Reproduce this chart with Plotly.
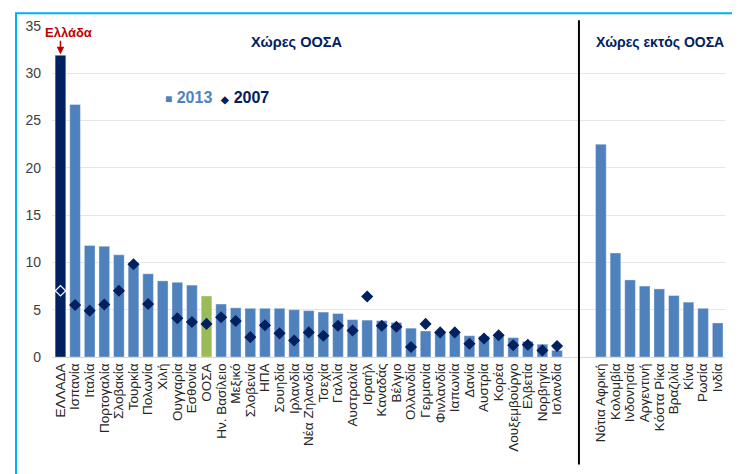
import plotly.graph_objects as go

oecd_countries = ["ΕΛΛΑΔΑ", "Ισπανία", "Ιταλία", "Πορτογαλία", "Σλοβακία", "Τουρκία", "Πολωνία", "Χιλή",
                  "Ουγγαρία", "Εσθονία", "ΟΟΣΑ", "Ην. Βασίλειο", "Μεξικό", "Σλοβενία", "ΗΠΑ", "Σουηδία",
                  "Ιρλανδία", "Νέα Ζηλανδία", "Τσεχία", "Γαλλία", "Αυστραλία", "Ισραήλ", "Καναδάς", "Βέλγιο",
                  "Ολλανδία", "Γερμανία", "Φινλανδία", "Ιαπωνία", "Δανία", "Αυστρία", "Κορέα", "Λουξεμβούργο",
                  "Ελβετία", "Νορβηγία", "Ισλανδία"]
oecd_2013 = [31.9, 26.7, 11.8, 11.7, 10.8, 10.0, 8.8, 8.05, 7.9, 7.6, 6.45, 5.6, 5.2, 5.15, 5.15, 5.15,
             5.0, 4.9, 4.75, 4.6, 3.95, 3.9, 3.85, 3.65, 3.05, 2.75, 2.6, 2.45, 2.25, 2.2, 2.2, 2.05,
             1.65, 1.35, 0.7]
oecd_2007 = [7.0, 5.5, 4.9, 5.55, 7.0, 9.8, 5.6, None, 4.1, 3.7, 3.5, 4.2, 3.8, 2.1, 3.35, 2.5,
             1.75, 2.6, 2.25, 3.3, 2.8, 6.4, 3.3, 3.2, 1.05, 3.5, 2.6, 2.6, 1.4, 1.95, 2.3, 1.25,
             1.3, 0.7, 1.15]

non_oecd_countries = ["Νότια Αφρική", "Κολομβία", "Ινδονησία", "Αργεντινή", "Κόστα Ρίκα", "Βραζιλία",
                      "Κίνα", "Ρωσία", "Ινδία"]
non_oecd_2013 = [22.5, 11.0, 8.15, 7.5, 7.2, 6.5, 5.8, 5.15, 3.6]
gap_slots = [" ", "  "]

y_ticks = [0, 5, 10, 15, 20, 25, 30, 35]

NAVY = "#002060"
BLUE = "#4f81bd"
GREEN = "#9bbb59"
RED = "#c00000"
FONT = "Liberation Sans, Arial, sans-serif"

cats = oecd_countries + gap_slots + non_oecd_countries
vals_2013 = oecd_2013 + [None] * len(gap_slots) + non_oecd_2013
vals_2007 = oecd_2007 + [None] * len(gap_slots) + [None] * len(non_oecd_countries)

bar_colors = []
for c in cats:
    if c == "ΕΛΛΑΔΑ":
        bar_colors.append(NAVY)
    elif c == "ΟΟΣΑ":
        bar_colors.append(GREEN)
    else:
        bar_colors.append(BLUE)

sym = ["diamond-open" if c == "ΕΛΛΑΔΑ" else "diamond" for c in cats]
dcol = ["white" if c == "ΕΛΛΑΔΑ" else NAVY for c in cats]

fig = go.Figure()
fig.add_trace(go.Bar(x=cats, y=vals_2013, marker=dict(color=bar_colors, line=dict(color="rgba(255,255,255,0.35)", width=1)),
                     name="2013", showlegend=False))
fig.add_trace(go.Scatter(x=cats, y=vals_2007, mode="markers", name="2007", showlegend=False,
                         marker=dict(symbol=sym, size=8, color=dcol, line=dict(color=dcol, width=1.2))))

# page body has an 8px margin: work in screen pixels and shift
OFF = 8
W, H = 732, 466
L, R, T, B = 52 - OFF, 15, 18 - OFF, 117
pw, ph = W - L - R, H - T - B


def px2paper_x(px):
    return (px - OFF - L) / pw


def px2paper_y(py):
    return (H - B - (py - OFF)) / ph


shapes = [
    dict(type="rect", xref="paper", yref="paper",
         x0=px2paper_x(16), x1=px2paper_x(735), y0=px2paper_y(485), y1=px2paper_y(5),
         line=dict(color="#00b0f0", width=2), fillcolor="rgba(0,0,0,0)", layer="above"),
    dict(type="line", xref="x", yref="paper", x0=35.5, x1=35.5, y0=px2paper_y(467), y1=px2paper_y(12),
         line=dict(color="black", width=2), layer="above"),
]


def label(text, px, py, size, color):
    return dict(text=text, x=px2paper_x(px), xref="paper", y=px2paper_y(py), yref="paper",
                xanchor="center", yanchor="middle", showarrow=False,
                font=dict(family=FONT, size=size, color=color))


annotations = [
    label("<b>Χώρες ΟΟΣΑ</b>", 296, 34, 14.5, NAVY),
    label("<b>Χώρες εκτός ΟΟΣΑ</b>", 660, 34, 14, NAVY),
    label("<b>Ελλάδα</b>", 68, 25, 13, RED),
    dict(text="", x=0, xref="x", y=32.0, yref="y", showarrow=True, ax=0, ay=-15,
         arrowhead=2, arrowsize=1, arrowwidth=1.5, arrowcolor=RED),
    label("<b><span style='color:%s'><span style='font-size:12px'>■</span> 2013</span>"
          "  <span style='color:%s'><span style='font-size:10px'>◆</span> 2007</span></b>" % (BLUE, NAVY),
          217, 91, 16, NAVY),
]

fig.update_layout(
    width=W, height=H,
    margin=dict(l=L, r=R, t=T, b=B),
    paper_bgcolor="white", plot_bgcolor="white",
    bargap=0.27,
    shapes=shapes, annotations=annotations,
    font=dict(family=FONT),
)
fig.update_xaxes(type="category", categoryorder="array", categoryarray=cats,
                 tickmode="array", tickvals=cats, ticktext=cats,
                 range=[-0.58, 45.5], tickangle=-90, tickfont=dict(family=FONT, size=13.5, color="#262626"),
                 showline=True, linecolor="#d9d9d9", linewidth=1, showgrid=False, ticks="")
fig.update_yaxes(range=[0, 35], tickvals=y_ticks, showgrid=True, gridcolor="#e6e6e6", gridwidth=1,
                 zeroline=False, tickfont=dict(family=FONT, size=14, color="#404040"),
                 ticklabelstandoff=10)

fig.write_html("out.html")
